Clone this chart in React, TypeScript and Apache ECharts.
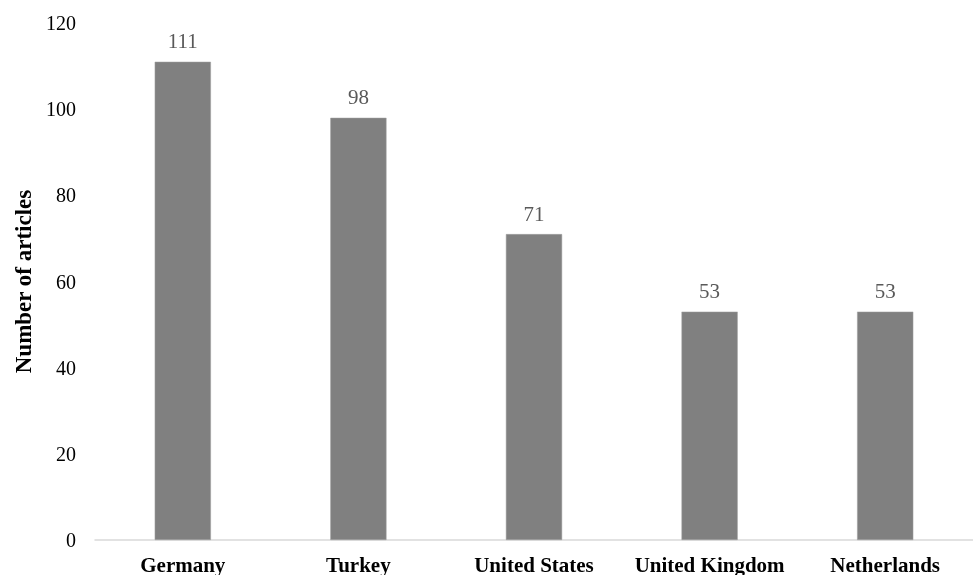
import React, { useEffect, useRef } from "react";
import * as echarts from "echarts";

const categories = ["Germany", "Turkey", "United States", "United Kingdom", "Netherlands"];
const values = [111, 98, 71, 53, 53];
const yTicks = { min: 0, max: 120, interval: 20 };

export default function App() {
  const ref = useRef<HTMLDivElement>(null);
  useEffect(() => {
    const chart = echarts.init(ref.current!, undefined, { renderer: "svg" });
    const font = "'Liberation Serif', 'Times New Roman', serif";
    chart.setOption({
      animation: false,
      grid: { left: 95, right: 0, top: 23, bottom: 35 },
      xAxis: {
        type: "category",
        data: categories,
        axisLine: { lineStyle: { color: "#d9d9d9", width: 1.5 } },
        axisTick: { show: false },
        axisLabel: { interval: 0, color: "#000", fontFamily: font, fontWeight: "bold", fontSize: 21, margin: 14 },
      },
      yAxis: {
        type: "value",
        min: yTicks.min,
        max: yTicks.max,
        interval: yTicks.interval,
        name: "Number of articles",
        nameLocation: "middle",
        nameGap: 59,
        nameTextStyle: { color: "#000", fontFamily: font, fontWeight: "bold", fontSize: 23 },
        splitLine: { show: false },
        axisLine: { show: false },
        axisTick: { show: false },
        axisLabel: { color: "#000", fontFamily: font, fontSize: 20, margin: 19 },
      },
      series: [
        {
          type: "bar",
          data: values,
          barWidth: "32%",
          itemStyle: { color: "#808080", borderColor: "#a0a0a0", borderWidth: 0.5 },
          label: { show: true, position: "top", color: "#595959", fontFamily: font, fontSize: 21, distance: 10 },
        },
      ],
    });
    return () => chart.dispose();
  }, []);
  return <div ref={ref} style={{ position: "fixed", left: 0, top: 0, width: 973, height: 575 }} />;
}
